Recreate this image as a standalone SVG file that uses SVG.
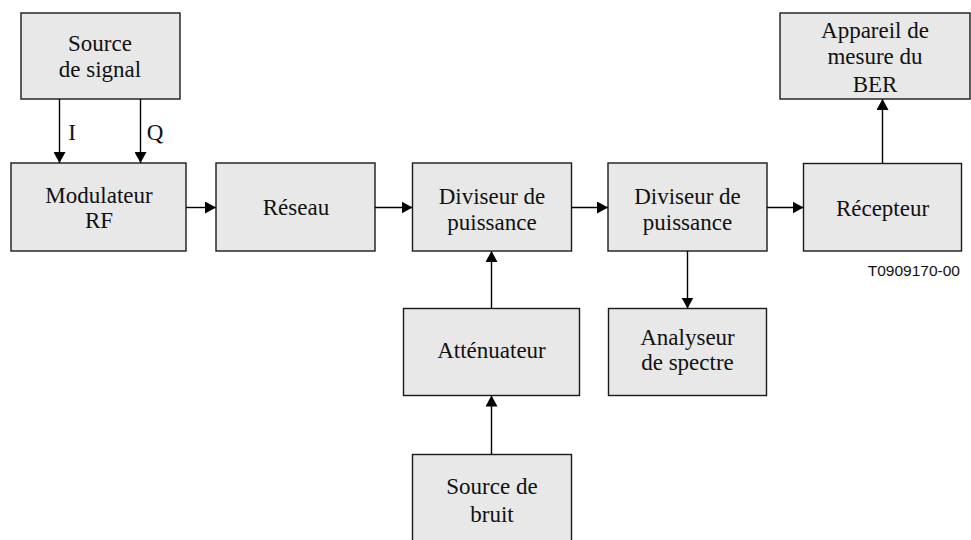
<svg xmlns="http://www.w3.org/2000/svg" width="971" height="540" viewBox="0 0 971 540">
<style>
.box{fill:#e8e8e8;stroke:#1a1a1a;stroke-width:1.4}
.t{font-family:'Liberation Serif','Times New Roman',Times,serif;font-size:23px;fill:#111;text-anchor:middle}
.c{stroke:#000;stroke-width:1.4;fill:none;marker-end:url(#ah)}
.id{font-family:'Liberation Sans',Arial,sans-serif;font-size:15.5px;fill:#111;text-anchor:end}
</style>
<defs>
<marker id="ah" markerWidth="11" markerHeight="12" refX="11" refY="6" orient="auto" markerUnits="userSpaceOnUse">
<path d="M0,0 L11,6 L0,12 z" fill="#000"/>
</marker>
</defs>
<rect width="971" height="540" fill="#fff"/>
<g id="source_signal"><rect class="box" x="21" y="13" width="159" height="86"/><text class="t" font-family="Liberation Serif, serif" x="100" y="50.5">Source</text><text class="t" x="100" y="76.5">de signal</text></g>
<g id="modulateur"><rect class="box" x="11" y="163" width="175" height="88"/><text class="t" x="99" y="203">Modulateur</text><text class="t" x="99" y="227.5">RF</text></g>
<g id="reseau"><rect class="box" x="216" y="163" width="159" height="88"/><text class="t" x="296" y="215">Réseau</text></g>
<g id="diviseur1"><rect class="box" x="412.5" y="163" width="159" height="88"/><text class="t" x="492" y="203.5">Diviseur de</text><text class="t" x="492" y="229.5">puissance</text></g>
<g id="diviseur2"><rect class="box" x="608" y="163" width="159" height="88"/><text class="t" x="687.5" y="203.5">Diviseur de</text><text class="t" x="687.5" y="229.5">puissance</text></g>
<g id="recepteur"><rect class="box" x="803.5" y="163.5" width="158" height="87.5"/><text class="t" x="882.5" y="215.5">Récepteur</text></g>
<g id="appareil_ber"><rect class="box" x="780" y="13" width="190" height="86"/><text class="t" x="875" y="37.5">Appareil de</text><text class="t" x="875" y="64">mesure du</text><text class="t" x="875" y="91.5">BER</text></g>
<g id="attenuateur"><rect class="box" x="403.5" y="308.5" width="176" height="87"/><text class="t" x="491.5" y="358">Atténuateur</text></g>
<g id="analyseur"><rect class="box" x="608.5" y="308.5" width="158" height="87"/><text class="t" x="687.5" y="344.5">Analyseur</text><text class="t" x="687.5" y="369.5">de spectre</text></g>
<g id="source_bruit"><rect class="box" x="412.5" y="454.5" width="159" height="92"/><text class="t" x="492" y="494">Source de</text><text class="t" x="492" y="521.5">bruit</text></g>
<g id="connectors">
<line class="c" x1="59.5" y1="99" x2="59.5" y2="163"/>
<line class="c" x1="140.5" y1="99" x2="140.5" y2="163"/>
<line class="c" x1="186" y1="207.5" x2="216" y2="207.5"/>
<line class="c" x1="375" y1="207.5" x2="412.5" y2="207.5"/>
<line class="c" x1="571.5" y1="207.5" x2="608" y2="207.5"/>
<line class="c" x1="767" y1="207.5" x2="803.5" y2="207.5"/>
<line class="c" x1="882.5" y1="163.5" x2="882.5" y2="99"/>
<line class="c" x1="687.5" y1="251" x2="687.5" y2="308.5"/>
<line class="c" x1="491.5" y1="308.5" x2="491.5" y2="251"/>
<line class="c" x1="491.5" y1="454.5" x2="491.5" y2="395.5"/>
<text class="t" x="72" y="140">I</text>
<text class="t" x="155" y="140">Q</text>
</g>
<text class="id" x="960" y="275.5">T0909170-00</text>
</svg>
